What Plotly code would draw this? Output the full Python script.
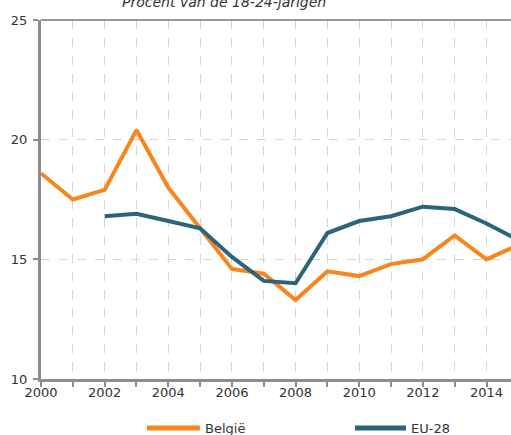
import plotly.graph_objects as go

years = list(range(2000, 2016))
belgie = [18.6, 17.5, 17.9, 20.4, 18.0, 16.3, 14.6, 14.4, 13.3, 14.5, 14.3, 14.8, 15.0, 16.0, 15.0, 15.6]
eu_years = list(range(2002, 2016))
eu28 = [16.8, 16.9, 16.6, 16.3, 15.1, 14.1, 14.0, 16.1, 16.6, 16.8, 17.2, 17.1, 16.5, 15.8]
x_ticks = list(range(2000, 2016))
x_ticktext = [str(y) if y % 2 == 0 else "" for y in x_ticks]
y_ticks = [10, 15, 20, 25]

ORANGE = "#F7861C"
TEAL = "#2B6579"
FONT = "DejaVu Sans"

fig = go.Figure()
fig.add_trace(go.Scatter(x=years, y=belgie, mode="lines", name="België",
                         line=dict(color=ORANGE, width=4), showlegend=False))
fig.add_trace(go.Scatter(x=eu_years, y=eu28, mode="lines", name="EU-28",
                         line=dict(color=TEAL, width=4), showlegend=False))

fig.update_layout(
    width=511, height=435,
    margin=dict(l=41, r=0, t=20, b=56),
    paper_bgcolor="white", plot_bgcolor="white",
    font=dict(family=FONT, size=12, color="#333333"),
    xaxis=dict(range=[2000, 2014.77], tickvals=x_ticks, ticktext=x_ticktext,
               showgrid=True, gridcolor="#d6d6d6", griddash="dash", gridwidth=1,
               showline=True, linecolor="#8c8c8c", linewidth=3,
               ticks="outside", ticklen=5, tickcolor="#8c8c8c", tickwidth=2,
               ticklabelstandoff=-6,
               tickfont=dict(size=13), zeroline=False),
    yaxis=dict(range=[10, 25], tickvals=y_ticks,
               showgrid=True, gridcolor="#d6d6d6", griddash="dash", gridwidth=1,
               showline=True, linecolor="#8c8c8c", linewidth=3,
               ticks="outside", ticklen=5, tickcolor="#8c8c8c", tickwidth=2,
               ticklabelstandoff=3,
               tickfont=dict(size=13), zeroline=False),
)

# top border line
fig.add_shape(type="line", xref="paper", yref="paper", x0=0, x1=1, y0=1, y1=1,
              line=dict(color="#999999", width=2))

# title (partly cut off at top, as in the original)
fig.add_annotation(text="<i>Procent van de 18-24-jarigen</i>", xref="paper", yref="paper",
                   x=0.389, y=1, yshift=18, showarrow=False, xanchor="center", yanchor="middle",
                   font=dict(family=FONT, size=14, color="#333333"))

# manual legend
leg_y = -0.1365
for x0, x1, tx, name, col in [(0.2255, 0.338, 0.345, "België", ORANGE),
                              (0.668, 0.7766, 0.783, "EU-28", TEAL)]:
    fig.add_shape(type="line", xref="paper", yref="paper", x0=x0, x1=x1, y0=leg_y, y1=leg_y,
                  line=dict(color=col, width=5))
    fig.add_annotation(text=name, xref="paper", yref="paper", x=tx, y=leg_y, showarrow=False,
                       xanchor="left", yanchor="middle",
                       font=dict(family=FONT, size=13, color="#333333"))

fig.write_html("out.html", config={"displayModeBar": False},
               post_script="document.body.style.margin='0';")
